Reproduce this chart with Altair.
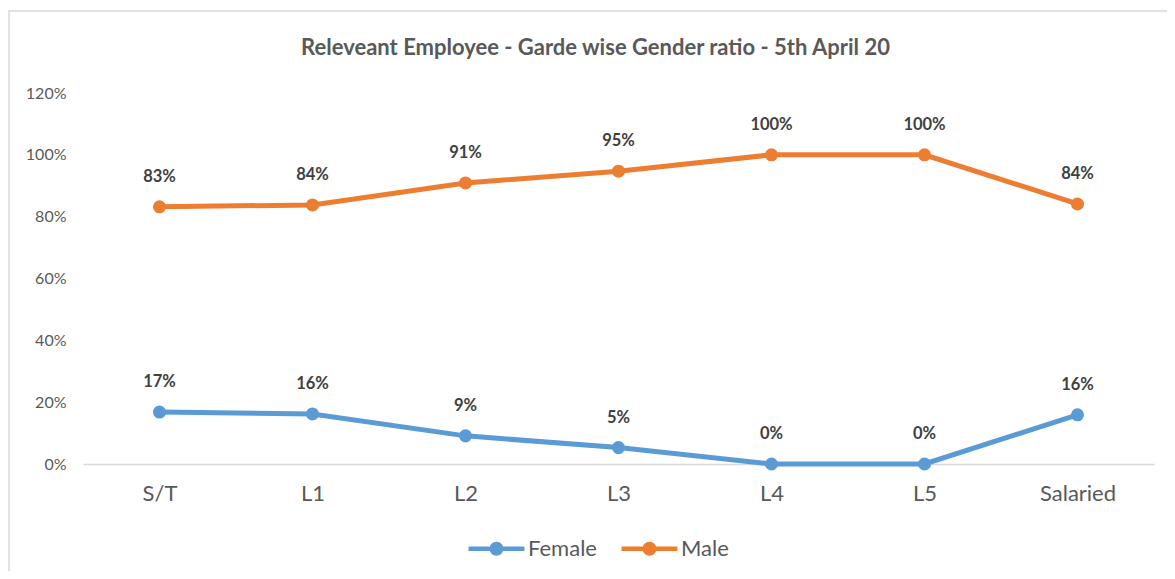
import altair as alt
import pandas as pd

categories = ["S/T", "L1", "L2", "L3", "L4", "L5", "Salaried"]
female = [0.168, 0.162, 0.091, 0.053, 0.0, 0.0, 0.159]
male = [0.832, 0.838, 0.909, 0.947, 1.0, 1.0, 0.841]
series = ["Female", "Male"]
colors = ["#5B9BD5", "#ED7D31"]

rows = []
for c, f, m in zip(categories, female, male):
    rows.append({"cat": c, "series": "Female", "value": f})
    rows.append({"cat": c, "series": "Male", "value": m})
df = pd.DataFrame(rows)

FONT = "Lato"

legend_path = ("M-2.5,-0.2 L-0.5,-0.2 L-0.5,0.2 L-2.5,0.2 Z "
               "M0.5,-0.2 L2.5,-0.2 L2.5,0.2 L0.5,0.2 Z "
               "M-0.62,0 A0.62,0.62 0 1,1 0.62,0 A0.62,0.62 0 1,1 -0.62,0 Z")

x_enc = alt.X("cat:N", sort=categories, title=None,
              scale=alt.Scale(type="point", padding=0.5),
              axis=alt.Axis(labelAngle=0, labelFontSize=22, labelColor="#595959",
                            labelFont=FONT, ticks=False, domainColor="#d9d9d9",
                            domainWidth=1.5, labelPadding=19, grid=False))
y_enc = alt.Y("value:Q", title=None,
              scale=alt.Scale(domain=[0, 1.2], nice=False),
              axis=alt.Axis(values=[0, 0.2, 0.4, 0.6, 0.8, 1.0, 1.2], format=".0%",
                            labelFontSize=16, labelColor="#595959", labelFont=FONT,
                            ticks=False, domain=False, grid=False, labelPadding=17))
color_enc = alt.Color("series:N", scale=alt.Scale(domain=series, range=colors),
                      legend=alt.Legend(title=None, orient="none", direction="horizontal",
                                        legendX=402, legendY=444, padding=0,
                                        symbolType=legend_path, symbolSize=500,
                                        symbolStrokeWidth=0, labelFontSize=22,
                                        labelColor="#595959", labelFont=FONT,
                                        columnPadding=24, labelOffset=20))

base = alt.Chart(df)

lines = base.mark_line(strokeWidth=5).encode(x=x_enc, y=y_enc, color=color_enc)
points = base.mark_point(filled=True, size=170, opacity=1).encode(x=x_enc, y=y_enc, color=color_enc)
labels = base.mark_text(dy=-30, fontSize=16.5, fontWeight="bold", color="#404040", font=FONT).encode(
    x=x_enc, y=y_enc, text=alt.Text("value:Q", format=".0%"))

border = alt.Chart(pd.DataFrame({"a": [0]})).mark_rect(
    fill="transparent", stroke="#d9d9d9", strokeWidth=1.5).encode(
    x=alt.value(-74), x2=alt.value(1130), y=alt.value(-82), y2=alt.value(520))

chart = alt.layer(border, lines, points, labels).properties(
    width=1071, height=371,
    title=alt.Title("Releveant Employee - Garde wise Gender ratio - 5th April 20",
                    fontSize=22, fontWeight="bold", color="#595959", font=FONT,
                    frame="group", offset=-50, dx=-23),
    autosize=alt.AutoSizeParams(type="none"),
    padding={"left": 75, "top": 85, "right": 13, "bottom": 107},
).configure_view(stroke=None)

chart.save("out.html", embed_options={"renderer": "svg", "actions": False})
